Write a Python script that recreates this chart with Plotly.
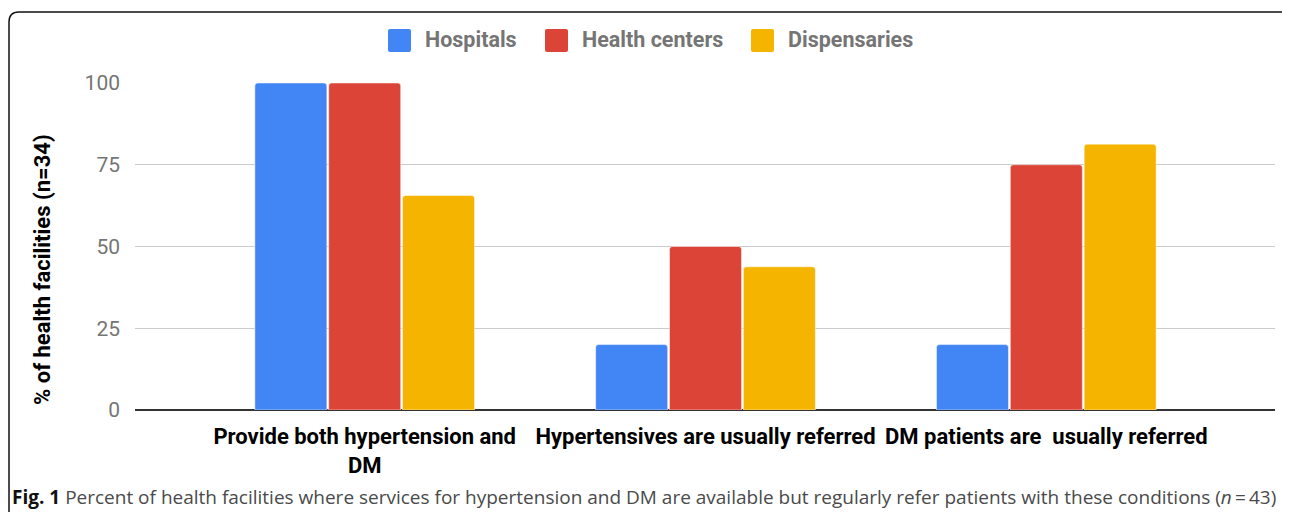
import plotly.graph_objects as go

# ---- data ----
categories = ["Provide both hypertension and<br>DM",
              "Hypertensives are usually referred",
              "DM patients are\u00a0 usually referred"]
series_names = ["Hospitals", "Health centers", "Dispensaries"]
hospitals = [100, 20, 20]
health_centers = [100, 50, 75]
dispensaries = [65.6, 43.8, 81.3]
series_values = [hospitals, health_centers, dispensaries]
colors = ["#4285F4", "#DB4437", "#F4B400"]
y_ticks = [0, 25, 50, 75, 100]
y_title = "% of health facilities (n=34)"
caption_bold = "Fig. 1"
caption_text = ("Percent of health facilities where services for hypertension and DM are "
                "available but regularly refer patients with these conditions (<i>n</i>\u2009=\u200943)")

# ---- layout geometry (pixels, page has an 8px body margin) ----
OFF = 8
W, H = 1290 - OFF, 512 - OFF
L, R = 135 - OFF, W - (1275 - OFF)
T, B = 83 - OFF, H - (410 - OFF)
PW, PH = W - L - R, H - T - B


def px(x):  # reference page x -> paper
    return (x - OFF - L) / PW


def py(y):  # reference page y -> paper
    return (H - B - (y - OFF)) / PH


fig = go.Figure()
for name, vals, col in zip(series_names, series_values, colors):
    fig.add_trace(go.Bar(
        x=categories, y=vals, name=name,
        marker=dict(color=col, line=dict(color="white", width=0.5)),
        showlegend=False,
    ))

shapes = []
annotations = []

# manual legend (large rounded squares like the reference)
legend_sq_x = [388, 545, 751]
for name, col, sx in zip(series_names, colors, legend_sq_x):
    x_a, x_b, y_a, y_b = px(sx), px(sx + 23), py(52), py(29)
    cr, crv = 2 / PW, 2 / PH
    sq = (f"M {x_a+cr},{y_b} L {x_b-cr},{y_b} Q {x_b},{y_b} {x_b},{y_b-crv} "
          f"L {x_b},{y_a+crv} Q {x_b},{y_a} {x_b-cr},{y_a} "
          f"L {x_a+cr},{y_a} Q {x_a},{y_a} {x_a},{y_a+crv} "
          f"L {x_a},{y_b-crv} Q {x_a},{y_b} {x_a+cr},{y_b} Z")
    shapes.append(dict(type="path", xref="paper", yref="paper", path=sq,
                       fillcolor=col, line=dict(width=0), layer="above"))
    annotations.append(dict(text=name, xref="paper", yref="paper",
                            x=px(sx + 35), y=py(40), xanchor="left", yanchor="middle",
                            showarrow=False,
                            font=dict(family="Roboto", size=21.5, color="#757575", weight="bold")))

# y-axis title
annotations.append(dict(text=y_title, xref="paper", yref="paper",
                        x=px(42), y=py(270), textangle=-90,
                        xanchor="center", yanchor="middle", showarrow=False,
                        font=dict(family="Roboto", size=22, color="#000000", weight="bold")))

# caption
annotations.append(dict(text="<b>" + caption_bold + "</b> <span style='color:#4a4a4a'>" + caption_text + "</span>",
                        xref="paper", yref="paper", x=px(10), y=py(497),
                        xanchor="left", yanchor="middle", showarrow=False,
                        font=dict(family="Open Sans", size=19, color="#111111")))

# rounded frame
x0, x1, y0, y1 = px(9), px(1291), py(12), py(540)
rx, ry = 10 / PW, 10 / PH
path = (f"M {x0+rx},{y0} L {x1-rx},{y0} Q {x1},{y0} {x1},{y0-ry} "
        f"L {x1},{y1+ry} Q {x1},{y1} {x1-rx},{y1} "
        f"L {x0+rx},{y1} Q {x0},{y1} {x0},{y1+ry} "
        f"L {x0},{y0-ry} Q {x0},{y0} {x0+rx},{y0} Z")
shapes.append(dict(type="path", xref="paper", yref="paper", path=path,
                   line=dict(color="#111111", width=1.5), fillcolor="rgba(0,0,0,0)"))

fig.update_layout(
    width=W, height=H,
    margin=dict(l=L, r=R, t=T, b=B, pad=0),
    plot_bgcolor="white", paper_bgcolor="white",
    barmode="group", bargap=0.35, bargroupgap=0.025,
    barcornerradius=3,
    shapes=shapes, annotations=annotations,
    xaxis=dict(type="category", range=[-0.674, 2.671],
               showgrid=False, showline=False, zeroline=False,
               ticks="outside", ticklen=7, tickcolor="rgba(0,0,0,0)",
               tickfont=dict(family="Roboto", size=22, color="#000000", weight="bold")),
    yaxis=dict(range=[0, 100], tickvals=y_ticks,
               showgrid=True, gridcolor="#cccccc", gridwidth=1.3,
               zeroline=True, zerolinecolor="#333333", zerolinewidth=1.6,
               showline=False, ticks="", ticklabelstandoff=14,
               tickfont=dict(family="Roboto", size=21, color="#757575")),
    font=dict(family="Roboto"),
)

fig.write_html("out.html")
